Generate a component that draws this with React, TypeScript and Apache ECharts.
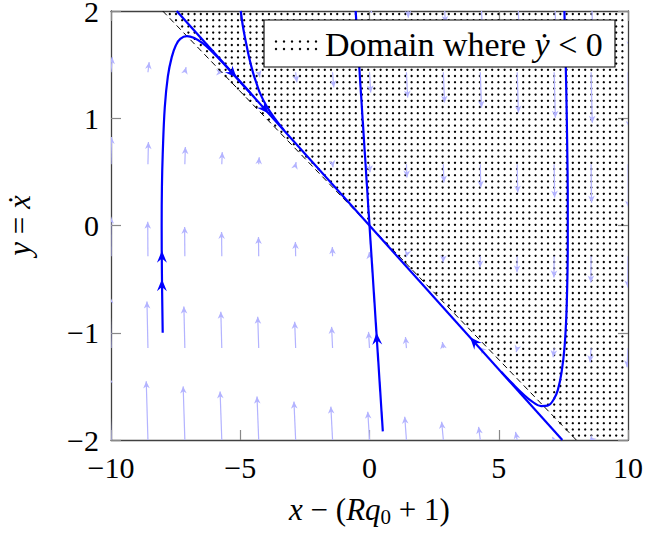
import React, { useEffect, useRef } from "react";
import * as echarts from "echarts";

// ---------- data ----------
const xTicks = [-10, -5, 0, 5, 10];
const yTicks = [-2, -1, 0, 1, 2];

// quiver sample grid
const fieldX = [-10, -8.571, -7.143, -5.714, -4.286, -2.857, -1.429, 0, 1.429, 2.857, 4.286, 5.714, 7.143, 8.571, 10];
const fieldY = [-2, -1.143, -0.286, 0.571, 1.429, 2.286];
// horizontal arrow component, one per row
const fieldDx = [-0.066, -0.038, -0.009, 0.019, 0.047, 0.075];
// vertical arrow components, one row per fieldY
const fieldDyRow0 = [0.594, 0.547, 0.5, 0.453, 0.405, 0.358, 0.311, 0.264, 0.217, 0.17, 0.123, 0.075, 0.028, -0.019, -0.066];
const fieldDyRow1 = [0.481, 0.434, 0.387, 0.339, 0.292, 0.245, 0.198, 0.151, 0.104, 0.057, 0.009, -0.038, -0.085, -0.132, -0.179];
const fieldDyRow2 = [0.368, 0.321, 0.273, 0.226, 0.179, 0.132, 0.085, 0.038, -0.009, -0.057, -0.104, -0.151, -0.198, -0.245, -0.292];
const fieldDyRow3 = [0.255, 0.207, 0.16, 0.113, 0.066, 0.019, -0.028, -0.075, -0.123, -0.17, -0.217, -0.264, -0.311, -0.358, -0.405];
const fieldDyRow4 = [0.141, 0.094, 0.047, 0, -0.047, -0.094, -0.141, -0.189, -0.236, -0.283, -0.33, -0.377, -0.424, -0.471, -0.519];
const fieldDyRow5 = [0.028, -0.019, -0.066, -0.113, -0.16, -0.207, -0.255, -0.302, -0.349, -0.396, -0.443, -0.49, -0.537, -0.585, -0.632];
const fieldDy = [fieldDyRow0, fieldDyRow1, fieldDyRow2, fieldDyRow3, fieldDyRow4, fieldDyRow5];

// domain where ydot < 0 (boundary is the dashed nullcline)
const domainPoly = [[-8, 2], [10.5, 2], [10.5, -2], [8, -2]];
const nullcline = [[-8, 2], [8, -2]];

// trajectories
const trajLeft = [
  [-8.0, -1.0], [-8.03, -0.45], [-8.04, 0.0], [-8.03, 0.36], [-8.0, 0.66], [-7.92, 1.1],
  [-7.8, 1.39], [-7.65, 1.57], [-7.49, 1.68], [-7.32, 1.74], [-7.06, 1.765], [-6.8, 1.75],
  [-6.46, 1.7], [-6.13, 1.63], [-5.66, 1.515], [-5.23, 1.4], [-4.6, 1.233],
];
const trajTop = [
  [-4.98, 2.0], [-4.9, 1.86], [-4.81, 1.744], [-4.65, 1.559], [-4.5, 1.421], [-4.36, 1.318],
  [-4.24, 1.237], [-4.0, 1.12], [-3.68, 1.003], [-3.31, 0.889],
];
const slowLine = [[-7.46, 2.0], [7.46, -2.0]];
const fastLine = [[-0.536, 2.0], [0.515, -1.92]];
const trajRight = [
  [7.54, 2.0], [7.61, 1.29], [7.65, 0.71], [7.67, 0.23], [7.67, -0.16], [7.63, -0.74],
  [7.55, -1.12], [7.43, -1.37], [7.29, -1.53], [7.13, -1.62], [6.89, -1.68], [6.64, -1.684],
  [6.31, -1.645], [5.99, -1.583], [5.53, -1.474], [5.1, -1.365],
];
// arrow heads: tip x, tip y, a point behind the tip (x, y)
const trajArrows = [
  [-8.03, -0.235, -8.03, -0.4],
  [-8.03, -0.5, -8.03, -0.65],
  [-5.14, 1.378, -5.5, 1.474],
  [-3.9, 1.045, -4.2, 1.126],
  [3.89, -1.043, 4.3, -1.153],
  [0.27, -1.0, 0.32, -1.187],
];

const legendText = "Domain where ";

// ---------- styling ----------
const FONT = '"Liberation Serif", "DejaVu Serif", serif';
const BLUE = "#0000ff";
const QUIVER = "#b3b3ff";
const DOT_STEP = 6.2;
const DOT_R = 1.15;

const fmt = (v: number) => (v < 0 ? "\u2212" + Math.abs(v) : String(v));

function arrowHead(tip: number[], ang: number, L: number, W: number, notch: number) {
  const c = Math.cos(ang);
  const s = Math.sin(ang);
  const pt = (a: number, b: number) => [tip[0] + a * c - b * s, tip[1] + a * s + b * c];
  return [pt(0, 0), pt(-L, W), pt(-notch * L, 0), pt(-L, -W)];
}

function insidePoly(px: number, py: number, pts: number[][]) {
  let inside = false;
  for (let i = 0, j = pts.length - 1; i < pts.length; j = i++) {
    const xi = pts[i][0], yi = pts[i][1], xj = pts[j][0], yj = pts[j][1];
    const hit = yi > py !== yj > py && px < ((xj - xi) * (py - yi)) / (yj - yi) + xi;
    if (hit) inside = !inside;
  }
  return inside;
}

function buildOption() {
  const quiverData: number[][] = [];
  fieldY.forEach((y, j) => {
    fieldX.forEach((x, i) => {
      quiverData.push([x, y, fieldDx[j], fieldDy[j][i]]);
    });
  });

  const axisLineStyle = { color: "#404040", width: 1.3 };
  const tickStyle = { color: "#888888", width: 1.2 };

  const trajSeries = (data: number[][], smooth: number | boolean) => ({
    type: "line",
    data,
    smooth,
    symbol: "none",
    clip: true,
    lineStyle: { color: BLUE, width: 2.2 },
    z: 5,
    silent: true,
  });

  const legendDots: any[] = [];
  for (let r = 0; r < 2; r++) {
    for (let c = 0; c < 6; c++) {
      legendDots.push({
        type: "circle",
        shape: { cx: 276 + c * 8, cy: 41.5 + r * 7.5, r: 1.2 },
        style: { fill: "#000" },
        z: 101,
      });
    }
  }

  return {
    animation: false,
    backgroundColor: "#ffffff",
    grid: { left: 111, right: 17, top: 11, bottom: 93, show: false, outerBoundsMode: "none" },
    xAxis: [
      {
        type: "value",
        min: -10,
        max: 10,
        interval: 5,
        position: "bottom",
        axisLine: { show: true, onZero: false, lineStyle: axisLineStyle },
        axisTick: { show: true, inside: true, length: 10, lineStyle: tickStyle, customValues: xTicks },
        axisLabel: {
          fontFamily: FONT,
          fontSize: 30,
          color: "#000",
          margin: 12,
          formatter: fmt,
          customValues: xTicks,
          showMinLabel: true,
          showMaxLabel: true,
        },
        splitLine: { show: false },
        name: "{i|x} \u2212 ({i|Rq}{s|0} + 1)",
        nameLocation: "middle",
        nameGap: 52,
        nameTextStyle: {
          fontFamily: FONT,
          fontSize: 31,
          color: "#000",
          rich: {
            i: { fontFamily: FONT, fontSize: 31, fontStyle: "italic", color: "#000" },
            s: { fontFamily: FONT, fontSize: 21, color: "#000", padding: [14, 0, 0, 0] },
          },
        },
      },
      {
        type: "value",
        min: -10,
        max: 10,
        interval: 5,
        position: "top",
        axisLine: { show: true, onZero: false, lineStyle: axisLineStyle },
        axisTick: { show: true, inside: true, length: 10, lineStyle: tickStyle },
        axisLabel: { show: false },
        splitLine: { show: false },
      },
    ],
    yAxis: [
      {
        type: "value",
        min: -2,
        max: 2,
        interval: 1,
        position: "left",
        axisLine: { show: true, onZero: false, lineStyle: axisLineStyle },
        axisTick: { show: true, inside: true, length: 10, lineStyle: tickStyle, customValues: yTicks },
        axisLabel: {
          fontFamily: FONT,
          fontSize: 30,
          lineHeight: 22,
          color: "#000",
          margin: 12,
          formatter: fmt,
          customValues: yTicks,
          showMinLabel: true,
          showMaxLabel: true,
        },
        splitLine: { show: false },
        name: "{i|y} = {i|\u1E8B}",
        nameLocation: "middle",
        nameGap: 76,
        nameTextStyle: {
          fontFamily: FONT,
          fontSize: 31,
          color: "#000",
          rich: { i: { fontFamily: FONT, fontSize: 31, fontStyle: "italic", color: "#000" } },
        },
      },
      {
        type: "value",
        min: -2,
        max: 2,
        interval: 1,
        position: "right",
        axisLine: { show: true, onZero: false, lineStyle: axisLineStyle },
        axisTick: { show: true, inside: true, length: 10, lineStyle: tickStyle },
        axisLabel: { show: false },
        splitLine: { show: false },
      },
    ],
    series: [
      {
        type: "custom",
        name: "domain",
        clip: true,
        silent: true,
        z: 1,
        data: [[0, 0]],
        renderItem: (params: any, api: any) => {
          const pts = domainPoly.map((p) => api.coord(p));
          const cs = params.coordSys;
          const children: any[] = [];
          for (let py = cs.y + 3; py < cs.y + cs.height; py += DOT_STEP) {
            for (let px = cs.x + 3; px < cs.x + cs.width; px += DOT_STEP) {
              if (insidePoly(px, py, pts)) {
                children.push({
                  type: "circle",
                  shape: { cx: px, cy: py, r: DOT_R },
                  style: { fill: "#000" },
                });
              }
            }
          }
          return { type: "group", children };
        },
      },
      {
        type: "custom",
        name: "quiver",
        clip: true,
        silent: true,
        z: 2,
        data: quiverData,
        renderItem: (params: any, api: any) => {
          const x = api.value(0);
          const y = api.value(1);
          const dx = api.value(2);
          const dy = api.value(3);
          const p0 = api.coord([x, y]);
          const p1 = api.coord([x + dx, y + dy]);
          const ang = Math.atan2(p1[1] - p0[1], p1[0] - p0[0]);
          return {
            type: "group",
            children: [
              {
                type: "line",
                shape: { x1: p0[0], y1: p0[1], x2: p1[0], y2: p1[1] },
                style: { stroke: QUIVER, lineWidth: 1.2 },
              },
              {
                type: "polygon",
                shape: { points: arrowHead(p1, ang, 7, 3.3, 0.7) },
                style: { fill: QUIVER },
              },
            ],
          };
        },
      },
      {
        type: "line",
        data: nullcline,
        symbol: "none",
        clip: true,
        silent: true,
        z: 3,
        lineStyle: { color: "#000", width: 1, type: [6, 4] },
      },
      trajSeries(slowLine, false),
      trajSeries(fastLine, false),
      trajSeries(trajLeft, 0.4),
      trajSeries(trajTop, 0.4),
      trajSeries(trajRight, 0.4),
      {
        type: "custom",
        name: "arrows",
        clip: true,
        silent: true,
        z: 6,
        data: trajArrows,
        renderItem: (params: any, api: any) => {
          const tip = api.coord([api.value(0), api.value(1)]);
          const back = api.coord([api.value(2), api.value(3)]);
          const ang = Math.atan2(tip[1] - back[1], tip[0] - back[0]);
          return {
            type: "polygon",
            shape: { points: arrowHead(tip, ang, 12, 5, 0.65) },
            style: { fill: BLUE },
          };
        },
      },
    ],
    graphic: [
      {
        type: "rect",
        shape: { x: 264, y: 20, width: 351, height: 47 },
        style: { fill: "#fff", stroke: "#000", lineWidth: 1.1 },
        z: 100,
      },
      ...legendDots,
      {
        type: "text",
        x: 325,
        y: 44,
        z: 101,
        style: {
          text: "{n|" + legendText + "}{i|\u1E8F}{n| < 0}",
          verticalAlign: "middle",
          align: "left",
          rich: {
            n: { fontFamily: FONT, fontSize: 34, fill: "#000" },
            i: { fontFamily: FONT, fontSize: 34, fontStyle: "italic", fill: "#000" },
          },
        },
      },
    ],
  };
}

export default function App() {
  const ref = useRef<HTMLDivElement>(null);
  useEffect(() => {
    if (!ref.current) return;
    const chart = echarts.init(ref.current, null, { renderer: "svg" });
    chart.setOption(buildOption() as any);
    return () => chart.dispose();
  }, []);
  return (
    <div
      ref={ref}
      style={{ position: "fixed", left: 0, top: 0, width: 645, height: 533, background: "#fff" }}
    />
  );
}
